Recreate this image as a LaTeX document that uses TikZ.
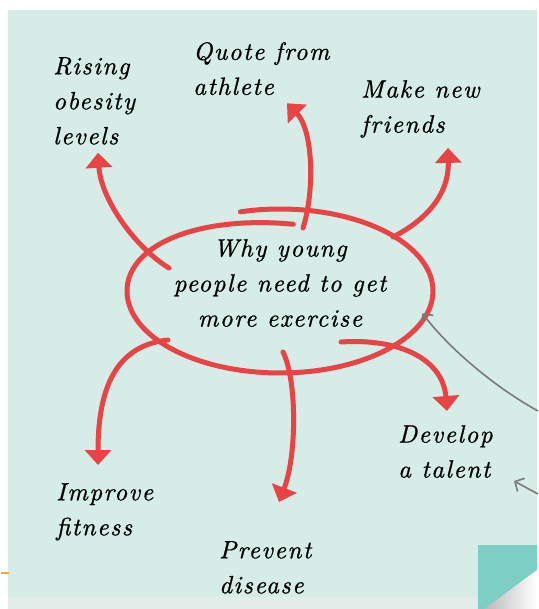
\documentclass[tikz,border=0pt]{standalone}
\usepackage{fontspec}
\newfontfamily\handfont{lmroman10-italic.otf}[LetterSpace=6, FakeBold=0.8]
\usetikzlibrary{arrows.meta,shapes.geometric}
\usepackage{xcolor}

\definecolor{mint}{RGB}{214,236,230}
\definecolor{mintedge}{RGB}{226,236,233}
\definecolor{penred}{RGB}{232,68,70}
\definecolor{foldteal}{RGB}{125,206,196}
\definecolor{notegrey}{RGB}{122,122,122}
\definecolor{tapeorange}{RGB}{240,170,60}

\begin{document}
\begin{tikzpicture}[
  x=1pt, y=-1pt,
  font=\handfont\fontsize{25}{35}\selectfont,
  pen/.style={line width=5pt, penred, line cap=round},
  redarr/.style={pen, -{Triangle[length=15pt, width=26pt]}},
  notearr/.style={line width=1.6pt, notegrey, -{Straight Barb[length=7pt, width=15pt]}},
  lbl/.style={anchor=north west, align=left, inner sep=0pt},
]

% ---- Page ----
\fill[white] (0,0) rectangle (536,609);
\fill[mint] (7,10) rectangle (536,597);
\fill[mintedge] (7,597) rectangle (536,609);
\draw[tapeorange, line width=2pt] (0,573) -- (8,573);

% page curl, lower right
\fill[foldteal] (477,545) rectangle (536,609);
\shade[left color=gray!55, right color=white] (483,609) -- (536,570) -- (536,609) -- cycle;

% ---- Hub ----
\node[ellipse, minimum width=306pt, minimum height=164pt, inner sep=0pt,
      align=center] (hub) at (279,283)
  {Why young\\people need to get\\more exercise};

% hand-drawn ring, ends overlap at the top
\draw[pen, shift={(279,291)}]
  plot[domain=105:-275, samples=90, smooth]
  ({153*cos(\x)}, {-(82-15*max(0,-\x-180)/95)*sin(\x)});

% ---- Ideas ----
\node[lbl] (rising)  at (52,57)   {Rising\\obesity\\levels};
\node[lbl] (quote)   at (192,42)  {Quote from\\athlete};
\node[lbl] (friends) at (360,80)  {Make new\\friends};
\node[lbl] (talent)  at (397,425) {Develop\\a talent};
\node[lbl] (fitness) at (55,483)  {Improve\\fitness};
\node[lbl] (disease) at (218,541) {Prevent\\disease};

% roots of the arrows, inside the ring
\coordinate (r1) at (168,268);
\coordinate (r2) at (302,228);
\coordinate (r3) at (392,237);
\coordinate (r4) at (167,340);
\coordinate (r5) at (282,352);
\coordinate (r6) at (340,342);

% Arrows out to the ideas
\draw[redarr] (r1) .. controls (135,248) and (100,200) .. ([shift={(45,8)}]rising.south west);
\draw[redarr] (r2) .. controls (314,190) and (312,130) .. ([shift={(94,8)}]quote.south west);
\draw[redarr] (r3) .. controls (425,220) and (448,195) .. ([shift={(87,10)}]friends.south west);
\draw[redarr] (r4) .. controls (120,345) and (97,380) .. ([shift={(42,-18)}]fitness.north west);
\draw[redarr] (r5) .. controls (296,380) and (296,455) .. ([shift={(60,-39)}]disease.north west);
\draw[redarr] (r6) .. controls (400,338) and (442,360) .. ([shift={(49,-14)}]talent.north west);

% Notes coming in from the margin
\coordinate (noteA) at (537,411);
\coordinate (noteB) at (537,494);
\draw[notearr] (noteA) .. controls (490,385) and (445,345) .. (hub.-12.4);
\draw[notearr] (noteB) -- (513,481);

\end{tikzpicture}
\end{document}
